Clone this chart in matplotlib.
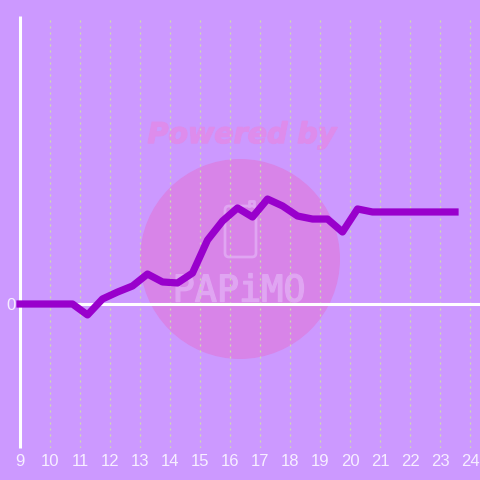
import matplotlib
matplotlib.use("Agg")
import matplotlib.pyplot as plt
import matplotlib.patheffects as pe
from matplotlib.patches import Circle, FancyBboxPatch

hours = [9, 9.5, 10, 10.5, 10.75, 11.25, 11.75, 12.25, 12.75, 13.25, 13.75, 14.25, 14.75,
         15.25, 15.75, 16.25, 16.75, 17.25, 17.75, 18.25, 18.75, 19.25, 19.75, 20.25,
         20.75, 21.25, 21.75, 22.25, 22.75, 23.25, 23.5]
values = [0, 0, 0, 0, 0, -76, 35, 83, 125, 208, 153, 146, 215,
          444, 576, 667, 604, 729, 681, 611, 590, 590, 500, 660,
          639, 639, 639, 639, 639, 639, 639]
x_ticks = list(range(9, 25))
grid_ticks = list(range(10, 25))
y_ticks = [0]
watermark_title = "Powered by"
watermark_name = "PAPiMO"

BG = "#CC99FF"
LINE = "#9900CC"
WM = "#DE8CEC"
WM2 = "#E0A5F2"
fig = plt.figure(figsize=(4.8, 4.8), dpi=100, facecolor=BG)

# watermark layer in pixel units
wm = fig.add_axes([0, 0, 1, 1], zorder=0)
wm.set_xlim(0, 480)
wm.set_ylim(480, 0)
wm.axis("off")
wm.add_patch(Circle((240, 259), 100, fc="#D884E8", ec="none"))
wm.text(242, 135, watermark_title, color=WM, fontsize=20.5, fontweight="bold", style="italic",
        family="DejaVu Sans", ha="center", va="center",
        path_effects=[pe.withStroke(linewidth=1.0, foreground=WM)])
wm.add_patch(FancyBboxPatch((225, 206), 31, 51, boxstyle="round,pad=0,rounding_size=4",
                            fc="none", ec=WM2, lw=2))
wm.plot([249, 249, 254, 254], [206, 201, 201, 206], color=WM2, lw=2)
wm.text(239, 291, watermark_name, color=WM2, fontsize=26.5, family="DejaVu Sans Mono",
        ha="center", va="center",
        path_effects=[pe.withStroke(linewidth=1.0, foreground=WM2)])

ax = fig.add_axes([20 / 480, 32 / 480, 1 - 20 / 480, 432 / 480], zorder=1)
ax.patch.set_alpha(0)
ax.set_xlim(9, 24.333)
ax.set_ylim(-1000, 2000)
for s in ["top", "right", "bottom"]:
    ax.spines[s].set_visible(False)
ax.spines["left"].set_color("white")
ax.spines["left"].set_linewidth(2.2)
ax.spines["left"].set_capstyle("butt")
ax.set_xticks(x_ticks)
ax.set_yticks(y_ticks)
ax.tick_params(length=0, labelcolor="#F7EFFF", labelsize=12, pad=3)
ax.tick_params(axis="x", pad=4)
for lab in ax.get_xticklabels() + ax.get_yticklabels():
    lab.set_family("Liberation Sans")
for g in grid_ticks:
    ax.axvline(g, color="#CCDDAE", lw=0.9, ls=(0, (1.6, 3.2)), zorder=1)
ax.axhline(0, color="white", lw=2.2, zorder=2)
ax.plot(hours, values, color=LINE, lw=5.2, solid_joinstyle="round", solid_capstyle="projecting",
        clip_on=False, zorder=3)

fig.savefig("out.png", dpi=100, facecolor=BG)
